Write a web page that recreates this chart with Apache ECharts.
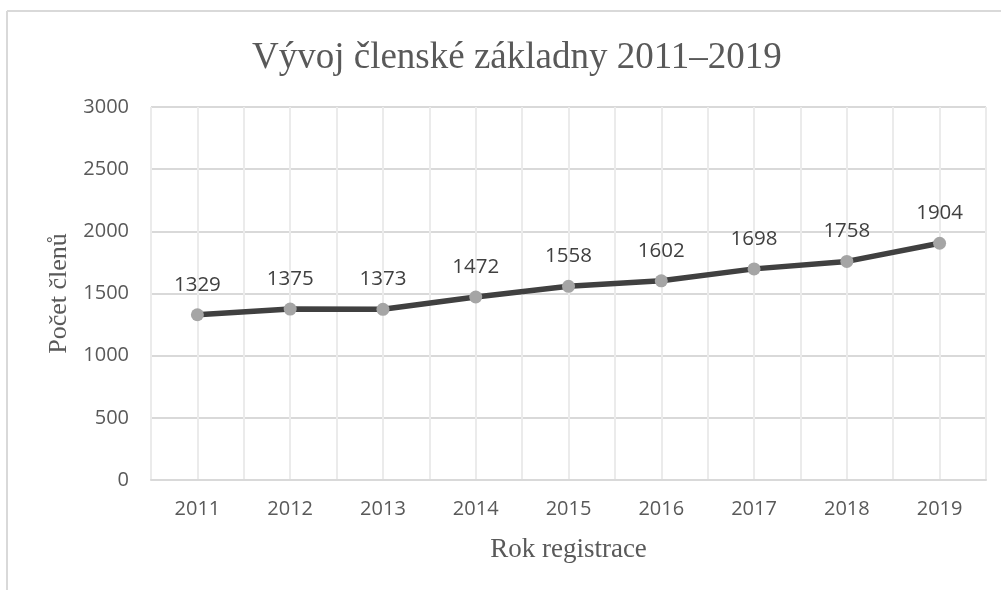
<!DOCTYPE html>
<html>
<head>
<meta charset="utf-8">
<script src="https://cdn.jsdelivr.net/npm/echarts@6/dist/echarts.min.js"></script>
<style>
  html, body { margin: 0; padding: 0; background: #fff; }
  #chart { width: 1001px; height: 590px; }
</style>
</head>
<body>
<div id="chart"></div>
<script>
  var years = [2011, 2012, 2013, 2014, 2015, 2016, 2017, 2018, 2019];
  var members = [1329, 1375, 1373, 1472, 1558, 1602, 1698, 1758, 1904];
  var yTicks = [0, 500, 1000, 1500, 2000, 2500, 3000];

  var chartTitle = 'Vývoj členské základny 2011–2019';
  var xName = 'Rok registrace';
  var yName = 'Počet členů';

  var points = years.map(function (y, i) { return [y, members[i]]; });

  var myChart = echarts.init(document.getElementById('chart'));
  var sans = '"Open Sans", "Noto Sans", sans-serif';
  var serif = '"Liberation Serif", "DejaVu Serif", serif';

  var option = {
    animation: false,
    title: {
      text: chartTitle,
      left: 247,
      top: 35,
      textStyle: { fontFamily: serif, fontSize: 37, fontWeight: 'normal', color: '#595959' }
    },
    graphic: [
      { type: 'line', shape: { x1: 7, y1: 11, x2: 1001, y2: 11 }, style: { stroke: '#d9d9d9', lineWidth: 2 } },
      { type: 'line', shape: { x1: 7, y1: 11, x2: 7, y2: 590 }, style: { stroke: '#d9d9d9', lineWidth: 2 } }
    ],
    grid: { left: 151, right: 15, top: 107, bottom: 110 },
    xAxis: {
      type: 'value',
      min: years[0] - 0.5,
      max: years[years.length - 1] + 0.5,
      interval: 0.5,
      name: xName,
      nameLocation: 'middle',
      nameGap: 56,
      nameTextStyle: { fontFamily: serif, fontSize: 27, color: '#595959' },
      axisLine: { show: true, lineStyle: { color: '#d9d9d9', width: 2 } },
      axisTick: { show: false },
      axisLabel: {
        margin: 19,
        fontFamily: sans, fontSize: 20, color: '#595959',
        formatter: function (v) { return years.indexOf(v) >= 0 ? String(v) : ''; }
      },
      splitLine: { show: true, lineStyle: { color: '#ebebeb', width: 2 } }
    },
    yAxis: {
      type: 'value',
      min: yTicks[0],
      max: yTicks[yTicks.length - 1],
      interval: 500,
      name: yName,
      nameLocation: 'middle',
      nameGap: 79,
      nameTextStyle: { fontFamily: serif, fontSize: 26, color: '#595959' },
      axisLine: { show: false },
      axisTick: { show: false },
      axisLabel: {
        margin: 22, fontFamily: sans, fontSize: 20, color: '#595959',
        formatter: function (v) { return String(v); }
      },
      splitLine: { show: true, lineStyle: { color: '#d9d9d9', width: 2 } }
    },
    series: [{
      type: 'line',
      data: points,
      symbol: 'circle',
      symbolSize: 13,
      lineStyle: { color: '#404040', width: 5.5 },
      itemStyle: { color: '#a5a5a5' },
      label: {
        show: true,
        position: 'top',
        distance: 13,
        fontFamily: sans,
        fontSize: 20.5,
        color: '#404040',
        formatter: function (p) { return p.value[1]; }
      }
    }]
  };
  myChart.setOption(option);
</script>
</body>
</html>
